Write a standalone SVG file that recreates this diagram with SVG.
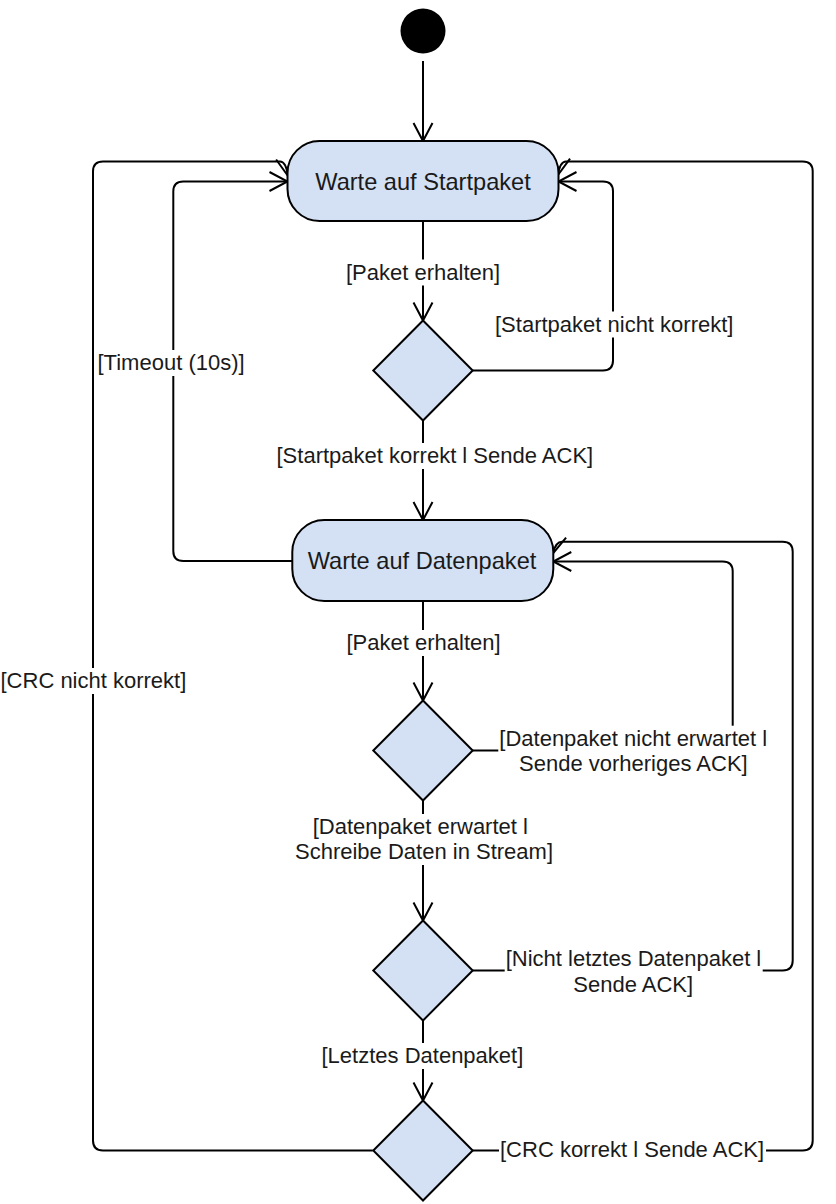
<svg xmlns="http://www.w3.org/2000/svg" width="836" height="1204" viewBox="0 0 836 1204">
  <style>
    .state { fill: #D4E1F5; stroke: #000; stroke-width: 2; }
    .decision { fill: #D4E1F5; stroke: #000; stroke-width: 2; }
    .title { font-family: "Liberation Sans", Arial, Helvetica, sans-serif; font-size: 23.6px; fill: #1a1a1a; text-anchor: middle; }
    .edge { fill: none; stroke: #000; stroke-width: 2; marker-end: url(#open); }
    .plain { fill: none; stroke: #000; stroke-width: 2; }
    .lbl { font-family: "Liberation Sans", Arial, Helvetica, sans-serif; font-size: 22px; fill: #1a1a1a; }
    .lblbg { fill: #fff; }
  </style>
  <defs>
    <marker id="open" markerUnits="userSpaceOnUse" markerWidth="24" markerHeight="24" viewBox="-20 -12 24 24" refX="0" refY="0" orient="auto" overflow="visible">
      <path d="M-18,-9.5 L0,0 L-18,9.5" fill="none" stroke="#000" stroke-width="2"/>
    </marker>
  </defs>

  <!-- connectors -->
  <g id="connectors">
    <path class="edge" d="M423 61 V141"/>
    <path class="edge" d="M423 221 V320.5"/>
    <path class="edge" d="M423 420.5 V520"/>
    <path class="edge" d="M423 601 V700.5"/>
    <path class="edge" d="M423 800.5 V920.5"/>
    <path class="edge" d="M423 1020.5 V1100.5"/>
    <!-- Startpaket nicht korrekt -->
    <path class="edge" d="M472.7 370.5 H603 Q613 370.5 613 360.5 V191.5 Q613 181.5 603 181.5 H558.5"/>
    <!-- Timeout -->
    <path class="edge" d="M292.3 561 H183.3 Q173.3 561 173.3 551 V191.5 Q173.3 181.5 183.3 181.5 H287.5"/>
    <!-- CRC nicht korrekt -->
    <path class="edge" d="M372.7 1150.5 H103 Q93 1150.5 93 1140.5 V171.5 Q93 161.5 103 161.5 H280 Q286 161.5 288 176"/>
    <!-- CRC korrekt -->
    <path class="edge" d="M472.7 1150.5 H802.7 Q812.7 1150.5 812.7 1140.5 V171.5 Q812.7 161.5 802.7 161.5 H566 Q560 161.5 558 175"/>
    <!-- Datenpaket nicht erwartet -->
    <path class="edge" d="M472.7 750.5 H732.7 V571.5 Q732.7 561.5 722.7 561.5 H553.3"/>
    <!-- Nicht letztes Datenpaket -->
    <path class="edge" d="M472.7 970.5 H782.7 Q792.7 970.5 792.7 960.5 V551.7 Q792.7 541.7 782.7 541.7 H562 Q555.5 541.7 553 553.3"/>

    <!-- guard labels -->
    <g id="labels">
      <rect class="lblbg" x="345" y="259.5" width="156" height="26"/>
      <text class="lbl" x="346" y="279.5">[Paket erhalten]</text>

      <rect class="lblbg" x="494" y="311.5" width="240" height="26"/>
      <text class="lbl" x="495" y="331.5">[Startpaket nicht korrekt]</text>

      <rect class="lblbg" x="96.5" y="350" width="150" height="26"/>
      <text class="lbl" x="97.5" y="370">[Timeout (10s)]</text>

      <rect class="lblbg" x="275.5" y="443" width="320" height="26"/>
      <text class="lbl" x="276.5" y="463">[Startpaket korrekt l Sende ACK]</text>

      <rect class="lblbg" x="345.5" y="630" width="156" height="26"/>
      <text class="lbl" x="346.5" y="650">[Paket erhalten]</text>

      <rect class="lblbg" x="0" y="668" width="188" height="26"/>
      <text class="lbl" x="0.5" y="688">[CRC nicht korrekt]</text>

      <rect class="lblbg" x="498.3" y="725.7" width="270" height="51"/>
      <text class="lbl" x="499.3" y="745.7">[Datenpaket nicht erwartet l</text>
      <text class="lbl" x="519" y="770.7">Sende vorheriges ACK]</text>

      <rect class="lblbg" x="294" y="814" width="260" height="51"/>
      <text class="lbl" x="312.7" y="834">[Datenpaket erwartet l</text>
      <text class="lbl" x="295" y="859">Schreibe Daten in Stream]</text>

      <rect class="lblbg" x="504.7" y="945.7" width="258" height="52"/>
      <text class="lbl" x="505.7" y="965.7">[Nicht letztes Datenpaket l</text>
      <text class="lbl" x="573.3" y="991.7">Sende ACK]</text>

      <rect class="lblbg" x="320.5" y="1043" width="204" height="26"/>
      <text class="lbl" x="321.5" y="1063">[Letztes Datenpaket]</text>

      <rect class="lblbg" x="499" y="1137" width="267" height="26"/>
      <text class="lbl" x="500" y="1157">[CRC korrekt l Sende ACK]</text>
    </g>
  </g>

  <!-- nodes -->
  <g id="start">
    <circle cx="423" cy="31" r="22.5" fill="#000"/>
  </g>
  <g id="warte-startpaket">
    <rect class="state" x="287.5" y="141" width="271" height="80" rx="32" ry="32"/>
    <text class="title" x="423" y="190">Warte auf Startpaket</text>
  </g>
  <g id="check-startpaket">
    <polygon class="decision" points="423,320.5 472.7,370.5 423,420.5 373.3,370.5"/>
  </g>
  <g id="warte-datenpaket">
    <rect class="state" x="292.3" y="520" width="261" height="81" rx="32" ry="32"/>
    <text class="title" x="422" y="569.3">Warte auf Datenpaket</text>
  </g>
  <g id="check-erwartet">
    <polygon class="decision" points="423,700.5 472.7,750.5 423,800.5 373.3,750.5"/>
  </g>
  <g id="check-letztes">
    <polygon class="decision" points="423,920.5 472.7,970.5 423,1020.5 373.3,970.5"/>
  </g>
  <g id="check-crc">
    <polygon class="decision" points="423,1100.5 472.7,1150.5 423,1200.5 373.3,1150.5"/>
  </g>
</svg>
